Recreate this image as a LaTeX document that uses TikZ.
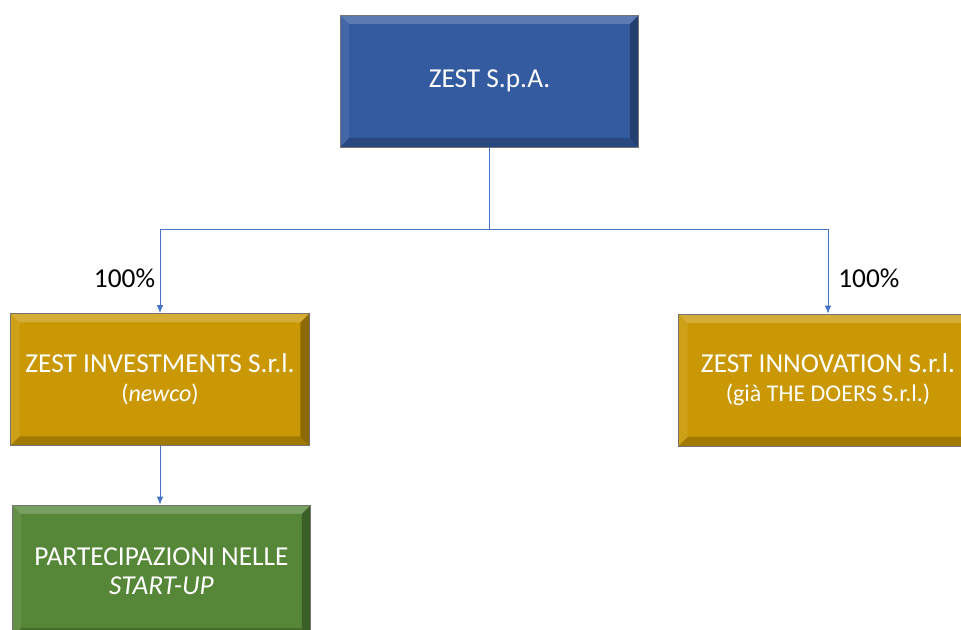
\documentclass[tikz,border=0pt]{standalone}
\usepackage{fontspec}
\setmainfont{Carlito}
\usetikzlibrary{arrows.meta,positioning}
\definecolor{zblue}{RGB}{52,91,160}
\definecolor{zgold}{RGB}{202,152,4}
\definecolor{zgreen}{RGB}{86,135,56}
\definecolor{zline}{RGB}{68,114,196}
\newcommand{\bw}{9}
\newcommand{\subline}{\fontsize{18}{21.75}\selectfont}

\begin{document}
\begin{tikzpicture}[x=0.75pt,y=0.75pt,>={Latex[length=6pt,width=5pt]},
  box/.style={draw=black!55,line width=.6pt,minimum width=224pt,minimum height=99pt,
    text=white,align=center,font=\fontsize{20.5}{21.75}\selectfont,
    path picture={
      \fill[white,opacity=.2] (path picture bounding box.north west) -- (path picture bounding box.north east)
        -- ([shift={(-\bw,-\bw)}]path picture bounding box.north east) -- ([shift={(\bw,-\bw)}]path picture bounding box.north west) -- cycle;
      \fill[white,opacity=.08] (path picture bounding box.north west) -- ([shift={(\bw,-\bw)}]path picture bounding box.north west)
        -- ([shift={(\bw,\bw)}]path picture bounding box.south west) -- (path picture bounding box.south west) -- cycle;
      \fill[black,opacity=.2] (path picture bounding box.south west) -- (path picture bounding box.south east)
        -- ([shift={(-\bw,\bw)}]path picture bounding box.south east) -- ([shift={(\bw,\bw)}]path picture bounding box.south west) -- cycle;
      \fill[black,opacity=.3] (path picture bounding box.north east) -- (path picture bounding box.south east)
        -- ([shift={(-\bw,\bw)}]path picture bounding box.south east) -- ([shift={(-\bw,-\bw)}]path picture bounding box.north east) -- cycle;
    }},
  arrow/.style={->,draw=zline,line width=.75pt},
  pct/.style={font=\fontsize{20.5}{21}\selectfont}]
  \clip (0,0) rectangle (961,630);
  \useasboundingbox (0,0) rectangle (961,630);
  % holding and subsidiaries
  \node[box,fill=zblue] (zest) at (489.5,549) {ZEST S.p.A.};
  \node[box,fill=zgold] (inv) at (160,250.5) {ZEST INVESTMENTS S.r.l.\\{\subline(\textit{newco})}};
  \node[box,fill=zgold] (inn) at (828,250) {ZEST INNOVATION S.r.l.\\{\subline(già THE DOERS S.r.l.)}};
  \node[box,fill=zgreen] (start) at (161.5,59) {PARTECIPAZIONI NELLE\\\textit{START-UP}};
  \coordinate (split) at (zest.south |- 0,400);
  \draw[arrow,-] (zest.south)--(split);
  \draw[arrow] (split)-|node[pos=.79,left,pct]{100\%}(inv.north);
  \draw[arrow] (split)-|node[pos=.79,right,xshift=4pt,pct]{100\%}(inn.north);
  \draw[arrow] (inv.south)--(inv.south |- start.north);
\end{tikzpicture}
\end{document}
